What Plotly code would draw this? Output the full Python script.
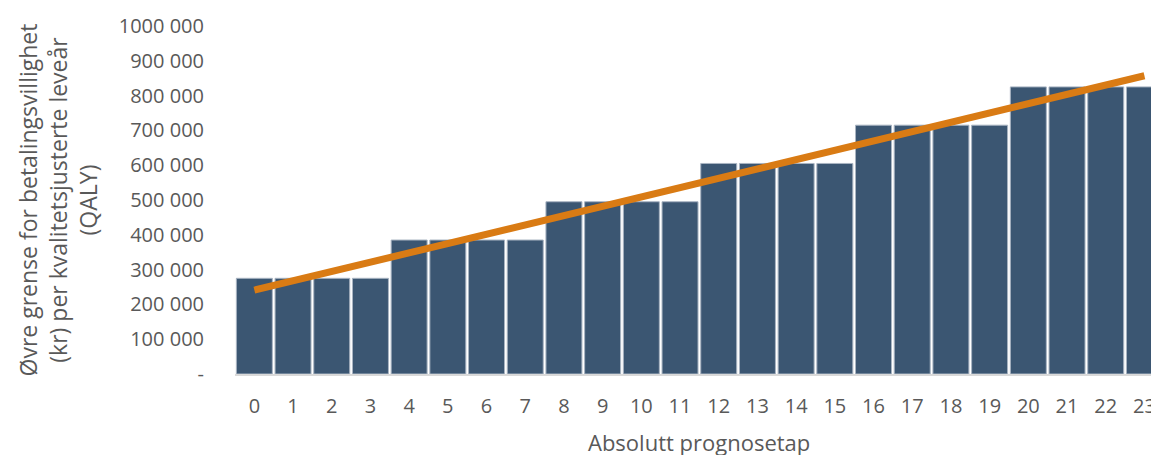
import plotly.graph_objects as go

# Absolute prognosis loss (0-23) and the upper willingness-to-pay limit per QALY
prognosetap = list(range(24))
grense = [275000] * 4 + [385000] * 4 + [495000] * 4 + [605000] * 4 + [715000] * 4 + [825000] * 4

# Straight trend line drawn across the same categories
trend_x = [0, 23]
trend_y = [241000, 857000]

ytick_vals = [0, 100000, 200000, 300000, 400000, 500000, 600000, 700000, 800000, 900000, 1000000]
ytick_text = ["-", "100 000", "200 000", "300 000", "400 000", "500 000",
              "600 000", "700 000", "800 000", "900 000", "1000 000"]

FONT = "Open Sans"
GREY = "#595959"

fig = go.Figure()
fig.add_trace(go.Bar(
    x=prognosetap, y=grense,
    marker=dict(color="#3B5672", line=dict(color="#A9B4C2", width=1)),
    showlegend=False,
))
fig.add_trace(go.Scatter(
    x=trend_x, y=trend_y, mode="lines",
    line=dict(color="#D97B14", width=7),
    showlegend=False,
))

fig.update_layout(
    width=1151, height=455,
    margin=dict(l=235, r=0, t=26, b=81),
    plot_bgcolor="white", paper_bgcolor="white",
    bargap=0.07,
    font=dict(family=FONT, color=GREY, size=20),
    xaxis=dict(
        range=[-0.5, 23.17],
        tickmode="array", tickvals=prognosetap,
        ticks="outside", ticklen=13, tickcolor="rgba(0,0,0,0)",
        ticklabeloverflow="allow", automargin=False,
        showgrid=False, zeroline=False,
        showline=True, linecolor="#D9D9D9", linewidth=2,
        tickfont=dict(size=20, color=GREY),
    ),
    yaxis=dict(
        range=[0, 1000000],
        tickmode="array", tickvals=ytick_vals, ticktext=ytick_text,
        ticks="outside", ticklen=26, tickcolor="rgba(0,0,0,0)",
        showgrid=False, zeroline=False, showline=False,
        automargin=False,
        tickfont=dict(size=20, color=GREY),
        title=dict(
            text="Øvre grense for betalingsvillighet<br>(kr) per kvalitetsjusterte leveår<br>(QALY)",
            font=dict(size=23, color=GREY), standoff=14,
        ),
    ),
)

fig.add_annotation(
    x=11.5, xref="x", y=0, yref="paper", yanchor="top", yshift=-51,
    text="Absolutt prognosetap", showarrow=False,
    font=dict(size=22, color=GREY, family=FONT),
)

fig.write_html("out.html")
